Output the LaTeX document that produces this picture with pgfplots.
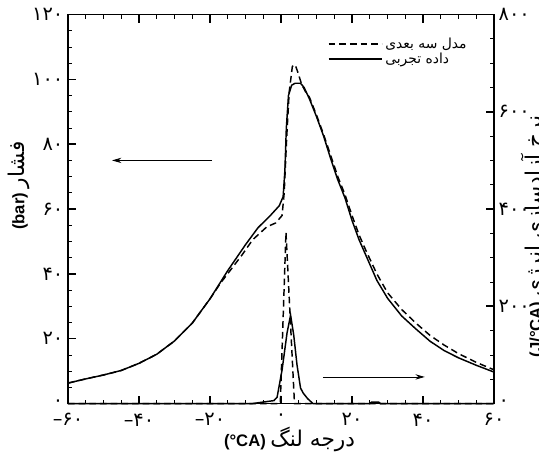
\documentclass[border=0pt]{standalone}
\usepackage{fontspec}
\setmainfont{Liberation Sans}
\newfontfamily\fa[Script=Arabic,Scale=1.3]{DejaVu Sans}
\newfontfamily\fanum{DejaVu Sans}
\usepackage{pgfplots}
\pgfplotsset{compat=1.18}
\usetikzlibrary{arrows.meta}
\TeXXeTstate=1

\begin{document}
\begin{tikzpicture}
\pgfplotsset{
  common/.style={
    scale only axis, width=319.5pt, height=291.75pt,
    xmin=-60, xmax=60,
    axis line style={line width=1.2pt},
    major tick length=6pt, minor tick length=3pt,
    major tick style={line width=1.2pt, black},
    minor tick style={line width=0.6pt, black},
    tick label style={font=\fanum\fontsize{14.5}{16}\selectfont},
    clip=false,
  },
  dsh/.style={black, line width=1.1pt, dash pattern=on 5pt off 3pt},
  sld/.style={black, line width=1.1pt},
}
% pressure, left axis
\begin{axis}[common,
  ymin=0, ymax=120,
  xtick={-60,-40,...,60},
  xticklabels={–۶۰,–۴۰,–۲۰,۰,۲۰,۴۰,۶۰},
  xticklabel style={yshift=-4pt},
  ytick={0,20,...,120},
  yticklabels={۰,۲۰,۴۰,۶۰,۸۰,۱۰۰,۱۲۰},
  minor x tick num=3, minor y tick num=3,
  ytick pos=left,
  legend style={draw=none, fill=none, at={(rel axis cs:0.6,0.955)},
    anchor=north west, font=\fa\footnotesize, row sep=-2pt},
  legend cell align=left,
  legend image code/.code={\draw[#1] (0pt,0pt) -- (40pt,0pt);},
]
% model
\addplot[dsh] coordinates {
  (-60,6.3) (-55,7.6) (-50,8.8) (-45,10.2) (-40,12.4) (-35,15.2) (-30,19.3)
  (-25,24.8) (-20,32.3) (-17,37.2) (-14,41.5) (-11,45.8) (-8,50.5) (-4,54.5)
  (-1.5,55.7) (0.3,58) (0.9,65) (1.6,82) (2.3,96) (3.2,104) (4,104.5)
  (4.8,102) (5.8,98.5) (7,96) (8,94.5) (10,89) (12,83) (14,76.5) (16,70)
  (18,64.5) (20,58) (22,52) (24,47) (27,40) (30,34.2) (34,29) (38,24.8)
  (42,21) (46,18) (50,15.4) (55,12.7) (60,10.4)
};
\addlegendentry{\beginR مدل سه بعدی\endR}
% experiment
\addplot[sld] coordinates {
  (-60,6.3) (-55,7.6) (-50,8.8) (-45,10.2) (-40,12.4) (-35,15.2) (-30,19.3)
  (-25,24.8) (-20,32.3) (-15,41) (-10,49) (-6.5,54.2) (-3,58) (-0.5,61)
  (0.6,63.8) (1.1,72) (1.5,85) (2.1,95) (3,98.2) (4,98.8) (5.5,98.8)
  (6.5,97.5) (8,94) (10,88.5) (12,82.5) (14,75.5) (16,69) (18,63.5)
  (20,56.5) (22,50.5) (24,45.5) (27,38) (30,32.5) (34,27) (38,23)
  (42,19.2) (46,16.3) (50,14.1) (55,11.8) (60,9.7)
};
\addlegendentry{\beginR داده تجربی\endR}
\draw[-{Stealth[length=7pt,width=4pt]}, line width=0.6pt]
  (axis cs:-19.4,75) -- (axis cs:-47.6,75);
\draw[-{Stealth[length=7pt,width=4pt]}, line width=0.6pt]
  (axis cs:11.8,8.2) -- (axis cs:40.5,8.2);
\coordinate (bl) at (rel axis cs:0,0);
\coordinate (tr) at (rel axis cs:1,1);
\node[rotate=90, font=\fontsize{12.5}{14}\selectfont] at ([xshift=-37pt]rel axis cs:0,0.56)
  {\bfseries (bar)\ {\mdseries\fa\beginR فشار\endR}};
\node[font=\fontsize{12.5}{14}\selectfont] at ([yshift=-27pt]rel axis cs:0.52,0)
  {\bfseries (°CA)\ {\mdseries\fa\beginR درجه لنگ\endR}};
\end{axis}
% heat release rate, right axis
\begin{axis}[common,
  ymin=0, ymax=800,
  axis x line=none,
  axis y line*=right,
  ytick={0,200,...,800},
  yticklabels={۰,۲۰۰,۴۰۰,۶۰۰,۸۰۰},
  minor y tick num=3,
]
\addplot[dsh] coordinates {
  (-60,0) (-0.2,0) (1.4,352) (3.8,0) (60,0)
};
\addplot[sld] coordinates {
  (-60,0) (-8,0) (-5,3) (-2,6) (-1.1,13) (0.3,69) (1.7,145) (2.7,182)
  (3.6,140) (4.5,80) (5.5,32) (6.2,22) (7.5,10) (9,0) (25,0) (25.5,3)
  (27.5,3) (28,0) (60,0)
};
\node[rotate=90, font=\fontsize{12.5}{14}\selectfont] at ([xshift=30pt]rel axis cs:1,0.43)
  {\bfseries (J/°CA)\ {\mdseries\fa\beginR نرخ آزادسازی انرژی\endR}};
\end{axis}
\pgfresetboundingbox
\path[use as bounding box] ([shift={(-51pt,-36.4pt)}]bl) rectangle ([shift={(33.75pt,10.9pt)}]tr);
\end{tikzpicture}
\end{document}
